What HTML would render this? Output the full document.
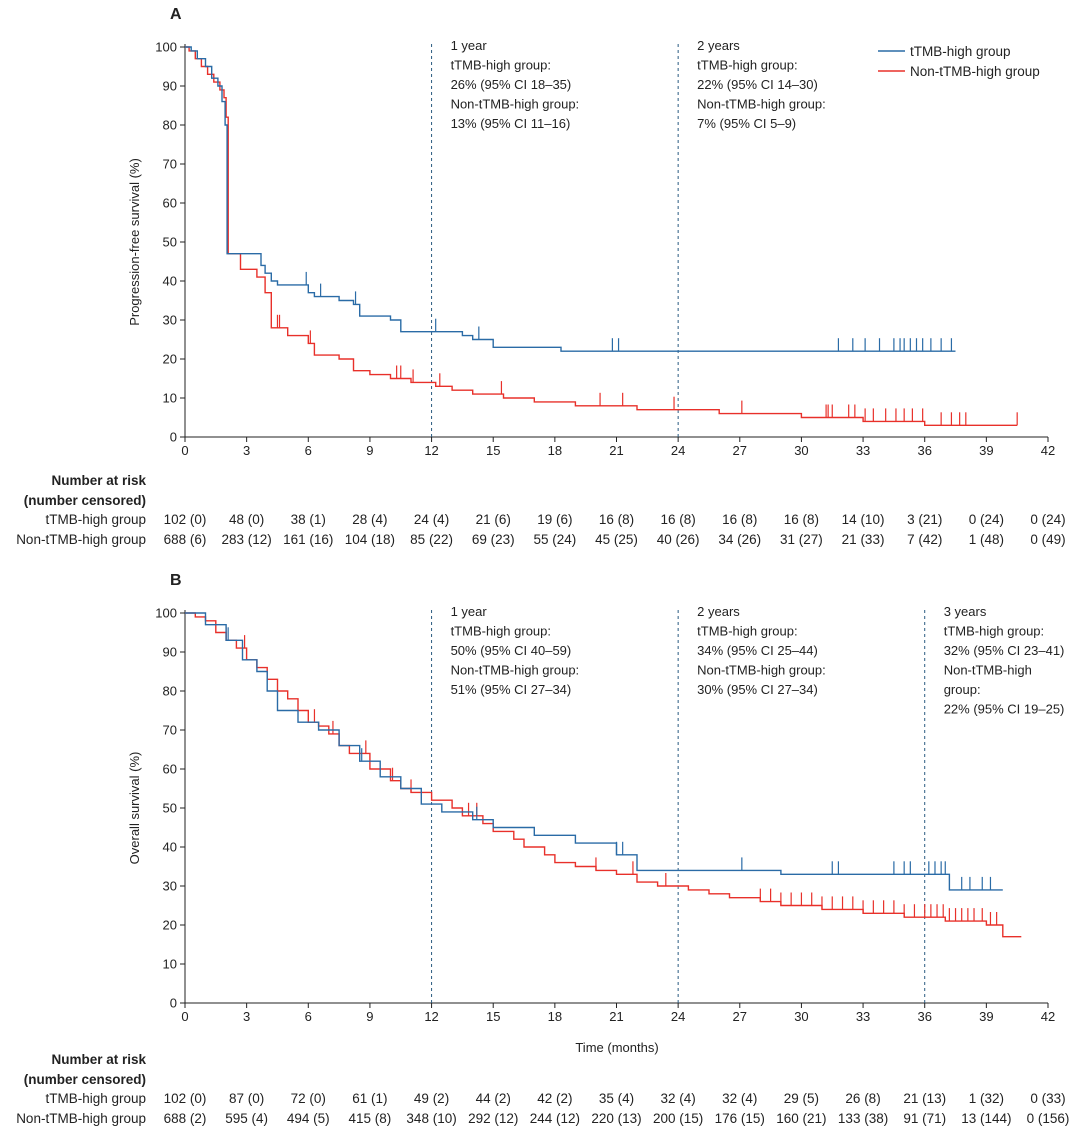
<!DOCTYPE html>
<html><head><meta charset="utf-8"><style>
body{margin:0;background:#fff;}
svg{display:block;font-family:"Liberation Sans",sans-serif;}
</style></head><body>
<svg id="fig" width="1080" height="1133" viewBox="0 0 1080 1133"></svg>
<script>
const ticksX=[0,3,6,9,12,15,18,21,24,27,30,33,36,39,42];
const ticksY=[0,10,20,30,40,50,60,70,80,90,100];
// Panel A data (time months, survival %)
const aBlueT=[0.3,0.6,1.0,1.3,1.6,1.8,1.95,2.05,3.7,3.9,4.2,4.5,6.0,6.3,7.5,8.2,8.5,10.0,10.5,13.5,14.0,15.0,18.3,37.5];
const aBlueS=[99,97,95,92,90,86,80,47,44,42,40,39,37,36,35,34,31,30,27,26,25,23,22,22];
const aRedT=[0.2,0.5,0.8,1.1,1.4,1.7,1.9,2.0,2.1,2.7,3.5,3.9,4.2,5.0,6.0,6.3,7.5,8.2,9.0,10.0,11.0,12.2,13.0,14.0,15.5,17.0,19.0,22.0,26.0,30.0,33.0,36.0,40.5];
const aRedS=[99,97,95,93,91,89,87,82,47,43,41,37,28,26,24,21,20,17,16,15,14,13,12,11,10,9,8,7,6,5,4,3,3];
const aBlueC=[5.9,6.6,8.3,12.2,14.3,20.8,21.1,31.8,32.5,33.1,33.8,34.5,34.8,35.0,35.3,35.6,35.9,36.3,36.8,37.3];
const aRedC=[4.5,4.6,6.1,10.3,10.5,11.1,12.4,15.4,20.2,21.3,23.8,27.1,31.2,31.3,31.5,32.3,32.6,33.1,33.5,34.1,34.6,35.0,35.4,35.9,36.8,37.3,37.7,38.0,40.5];
// Panel B data
const bBlueT=[1.0,2.0,2.8,3.5,4.0,4.5,5.5,6.5,7.5,8.5,9.5,10.5,11.5,12.5,14.0,15.0,17.0,19.0,21.0,22.0,29.0,37.2,39.8];
const bBlueS=[97,93,88,85,80,75,72,70,66,62,58,55,51,49,47,45,43,41,38,34,33,29,29];
const bRedT=[0.5,1.0,1.5,2.0,2.5,3.0,3.5,4.0,4.5,5.0,5.5,6.0,6.5,7.0,7.5,8.0,9.0,10.0,10.5,11.0,12.0,13.0,13.5,14.5,15.0,16.0,16.5,17.5,18.0,19.0,20.0,21.0,22.0,23.0,24.5,25.5,26.5,28.0,29.0,31.0,33.0,35.0,37.0,38.5,39.0,39.8,40.7];
const bRedS=[99,98,95,93,91,88,86,83,80,78,75,72,71,69,66,64,60,57,55,54,52,50,48,46,44,42,40,38,36,35,34,33,31,30,29,28,27,26,25,24,23,22,21,21,20,17,17];
const bBlueC=[2.1,8.6,14.2,21.0,21.3,27.1,31.5,31.8,34.5,35.0,35.3,36.2,36.5,36.8,37.0,37.8,38.2,38.8,39.2];
const bRedC=[2.0,2.9,6.3,7.2,8.8,10.1,11.0,13.8,14.2,20.0,21.8,23.4,28.0,28.5,29.0,29.5,30.0,30.5,31.0,31.5,32.0,32.5,33.0,33.5,34.0,34.5,35.0,35.5,36.0,36.3,36.6,36.9,37.2,37.5,37.8,38.1,38.4,38.8,39.2,39.5];
const riskA1=["102 (0)","48 (0)","38 (1)","28 (4)","24 (4)","21 (6)","19 (6)","16 (8)","16 (8)","16 (8)","16 (8)","14 (10)","3 (21)","0 (24)","0 (24)"];
const riskA2=["688 (6)","283 (12)","161 (16)","104 (18)","85 (22)","69 (23)","55 (24)","45 (25)","40 (26)","34 (26)","31 (27)","21 (33)","7 (42)","1 (48)","0 (49)"];
const riskB1=["102 (0)","87 (0)","72 (0)","61 (1)","49 (2)","44 (2)","42 (2)","35 (4)","32 (4)","32 (4)","29 (5)","26 (8)","21 (13)","1 (32)","0 (33)"];
const riskB2=["688 (2)","595 (4)","494 (5)","415 (8)","348 (10)","292 (12)","244 (12)","220 (13)","200 (15)","176 (15)","160 (21)","133 (38)","91 (71)","13 (144)","0 (156)"];

const NS="http://www.w3.org/2000/svg";
const svg=document.getElementById('fig');
const X0=185,X1=1048;
function xs(t){return X0+(X1-X0)*t/42;}
function mk(tag,attrs,parent){const e=document.createElementNS(NS,tag);for(const k in attrs)e.setAttribute(k,attrs[k]);(parent||svg).appendChild(e);return e;}
function txt(x,y,s,opts,parent){const e=mk('text',Object.assign({x:x,y:y,'font-size':13,fill:'#222'},opts||{}),parent);e.textContent=s;return e;}
const BLUE='#2a6ba6',RED='#e8302a';

function panel(id,top,letter,ylab,bT,bS,rT,rS,bC,rC,annots,r1,r2,riskY,xlabel){
  const g=mk('g',{});
  
  
  const yTop=top,yBot=top+390;
  const ys=v=>yBot-(yBot-yTop)*v/100;
  txt(170,top-28,letter,{'font-size':16,'font-weight':'bold'},g);
  const ax=mk('path',{d:`M${X0} ${yTop-3}V${yBot}H${X1}`,stroke:'#222','stroke-width':1,fill:'none'},g);
  
  
  ticksY.forEach(v=>{mk('line',{x1:X0-5,x2:X0,y1:ys(v),y2:ys(v),stroke:'#222'},g);
    const t=txt(X0-8,ys(v)+4.5,String(v),{'text-anchor':'end'},g);
    
    });
  ticksX.forEach(v=>{mk('line',{x1:xs(v),x2:xs(v),y1:yBot,y2:yBot+5,stroke:'#222'},g);
    const t=txt(xs(v),yBot+18,String(v),{'text-anchor':'middle'},g);
    
    });
  const yl=txt(0,0,ylab,{'text-anchor':'middle',transform:`translate(139,${(yTop+yBot)/2}) rotate(-90)`},g);
  
  
  if(xlabel){const xl=txt(617,yBot+49,xlabel,{'text-anchor':'middle'},g);
    
    }
  annots.forEach(a=>{
    const l=mk('line',{x1:xs(a.t),x2:xs(a.t),y1:yTop-3,y2:yBot,stroke:'#2a5a80','stroke-dasharray':'3,3','stroke-width':1},g);
    
    
    a.lines.forEach((s,i)=>{const t=txt(xs(a.t)+19,yTop+3+i*19.5,s,{},g);
      
      });
  });
  function curve(T,S,C,col,name){
    let d=`M${xs(0)} ${ys(100)}`;
    for(let i=0;i<T.length;i++){d+=`H${xs(T[i]).toFixed(1)}V${ys(S[i]).toFixed(1)}`;}
    const p=mk('path',{d:d,stroke:col,'stroke-width':1.4,fill:'none'},g);
    
    
    C.forEach(c=>{let s=100;for(let i=0;i<T.length;i++){if(T[i]<=c)s=S[i];}
      const m=mk('line',{x1:xs(c),x2:xs(c),y1:ys(s),y2:ys(s)-13,stroke:col,'stroke-width':1.2},g);
      
      });
  }
  curve(rT,rS,rC,RED,'non-tmb-high');
  curve(bT,bS,bC,BLUE,'tmb-high');
  const h1=txt(146,riskY-39,'Number at risk',{'text-anchor':'end','font-weight':'bold','font-size':13.5},g);
  
  
  const h2=txt(146,riskY-19,'(number censored)',{'text-anchor':'end','font-weight':'bold','font-size':13.5},g);
  
  
  [[r1,'tTMB-high group'],[r2,'Non-tTMB-high group']].forEach((row,ri)=>{
    const lb=txt(146,riskY+ri*20,row[1],{'text-anchor':'end','font-size':13.5},g);
    
    
    row[0].forEach((s,i)=>{const t=txt(xs(ticksX[i]),riskY+ri*20,s,{'text-anchor':'middle','font-size':13.5},g);
      
      });
  });
  return g;
}
panel('a',47,'A','Progression-free survival (%)',aBlueT,aBlueS,aRedT,aRedS,aBlueC,aRedC,
 [{t:12,lines:['1 year','tTMB-high group:','26% (95% CI 18–35)','Non-tTMB-high group:','13% (95% CI 11–16)']},
  {t:24,lines:['2 years','tTMB-high group:','22% (95% CI 14–30)','Non-tTMB-high group:','7% (95% CI 5–9)']}],
 riskA1,riskA2,524,null);
panel('b',613,'B','Overall survival (%)',bBlueT,bBlueS,bRedT,bRedS,bBlueC,bRedC,
 [{t:12,lines:['1 year','tTMB-high group:','50% (95% CI 40–59)','Non-tTMB-high group:','51% (95% CI 27–34)']},
  {t:24,lines:['2 years','tTMB-high group:','34% (95% CI 25–44)','Non-tTMB-high group:','30% (95% CI 27–34)']},
  {t:36,lines:['3 years','tTMB-high group:','32% (95% CI 23–41)','Non-tTMB-high','group:','22% (95% CI 19–25)']}],
 riskB1,riskB2,1103,'Time (months)');
const lg=mk('g',{});


[['tTMB-high group',BLUE,55],['Non-tTMB-high group',RED,75]].forEach(e=>{
  const l=mk('line',{x1:878,x2:905,y1:e[2]-4,y2:e[2]-4,stroke:e[1],'stroke-width':1.5},lg);
  
  
  const t=txt(910,e[2]+1,e[0],{'font-size':13.5},lg);
  
  
});
</script>
</body></html>
